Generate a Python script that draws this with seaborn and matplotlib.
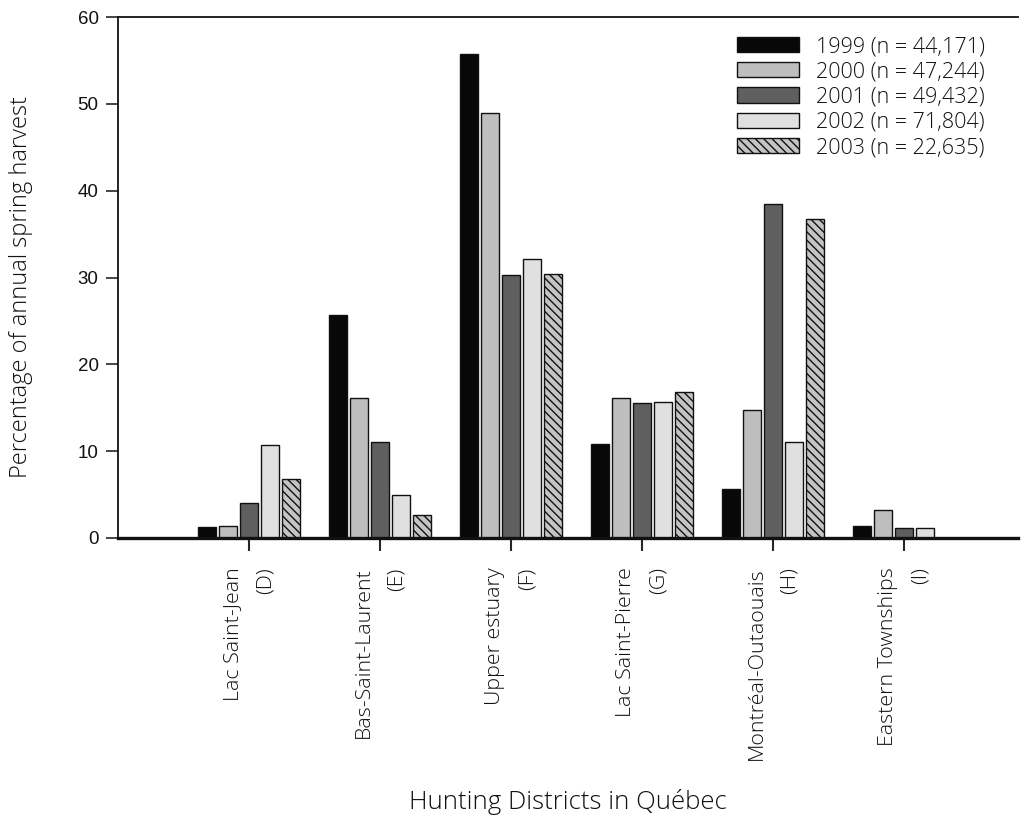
import numpy as np
import pandas as pd
import matplotlib
matplotlib.use("Agg")
import matplotlib.pyplot as plt
import matplotlib.transforms as mtransforms
from matplotlib.patches import Patch
import seaborn as sns

# Spring harvest share (%) by hunting district and year
districts = ["Lac Saint-Jean\n(D)", "Bas-Saint-Laurent\n(E)", "Upper estuary\n(F)",
             "Lac Saint-Pierre\n(G)", "Montréal-Outaouais\n(H)", "Eastern Townships\n(I)"]
years = ["1999 (n = 44,171)", "2000 (n = 47,244)", "2001 (n = 49,432)",
         "2002 (n = 71,804)", "2003 (n = 22,635)"]
pct_1999 = [1.3, 25.7, 55.7, 10.8, 5.6, 1.35]
pct_2000 = [1.4, 16.1, 48.9, 16.1, 14.7, 3.2]
pct_2001 = [4.0, 11.0, 30.3, 15.5, 38.5, 1.2]
pct_2002 = [10.7, 4.9, 32.1, 15.7, 11.1, 1.1]
pct_2003 = [6.8, 2.65, 30.4, 16.85, 36.7, np.nan]

colors = ["#080808", "#bebebe", "#5f5f5f", "#e0e0e0", "#c4c4c4"]
hatches = ["", "", "", "", "\\\\\\\\"]

series = [pct_1999, pct_2000, pct_2001, pct_2002, pct_2003]
df = pd.DataFrame({
    "district": districts * len(years),
    "year": [y for y in years for _ in districts],
    "pct": [v for s in series for v in s],
})

sns.set_style("white")
plt.rcParams["hatch.linewidth"] = 1.0
plt.rcParams["hatch.color"] = "#111111"

fig = plt.figure(figsize=(10.24, 8.22), dpi=100)
ax = fig.add_axes([118 / 1024, 1 - 538 / 822, 900 / 1024, 521 / 822])

sns.barplot(data=df, x="district", y="pct", hue="year", order=districts,
            hue_order=years, palette=colors, width=0.8, gap=0.14,
            edgecolor="#111111", linewidth=1.0, legend=False, ax=ax)

# hatch the 2003 bars
for container, h in zip(ax.containers, hatches):
    for bar in container:
        bar.set_hatch(h)

ax.set_xlim(-1.0, 5.87)
ax.set_ylim(0, 60)
ax.set_yticks([0, 10, 20, 30, 40, 50, 60])

label_font = ["Open Sans", "DejaVu Sans"]
text_kw = dict(family=label_font, weight="light", color="#111111")
ax.set_xticks(range(len(districts)))
ax.set_xticklabels(districts, rotation=90, ha="center", va="top",
                   multialignment="right", fontsize=15.4, linespacing=1.85,
                   **text_kw)
shift = mtransforms.ScaledTranslation(7 / 100, 0, fig.dpi_scale_trans)
for lab in ax.get_xticklabels():
    lab.set_transform(lab.get_transform() + shift)
for lab in ax.get_yticklabels():
    lab.set_family("Liberation Sans")
    lab.set_fontsize(13.5)
    lab.set_color("#111111")

ax.tick_params(axis="y", direction="out", length=9, width=1.2, pad=5, left=True)
ax.tick_params(axis="x", direction="out", length=9, width=1.5, pad=12, bottom=True)

for side in ["left", "top", "bottom"]:
    ax.spines[side].set_color("#111111")
ax.spines["left"].set_linewidth(1.3)
ax.spines["top"].set_linewidth(1.3)
ax.spines["bottom"].set_linewidth(2.4)
ax.spines["right"].set_visible(False)

ax.set_ylabel("Percentage of annual spring harvest", fontsize=17, **text_kw)
ax.yaxis.set_label_coords(-(118 - 33) / 900, 0.482)
ax.set_xlabel("Hunting Districts in Québec", fontsize=18.5, **text_kw)
ax.xaxis.set_label_coords(0.5, -(789 - 538) / 521)

handles = [Patch(facecolor=c, edgecolor="#111111", hatch=h, linewidth=1.0)
           for c, h in zip(colors, hatches)]
leg = ax.legend(handles, years, loc="upper right",
                bbox_to_anchor=((985 - 118) / 900, 1 - 19 / 521),
                frameon=False,
                prop={"family": label_font, "size": 15.5, "weight": "light"},
                handlelength=2.85, handleheight=0.72, labelspacing=0.2,
                handletextpad=0.8, borderaxespad=0, borderpad=0)
for t in leg.get_texts():
    t.set_color("#111111")

fig.savefig("out.png", dpi=100)
